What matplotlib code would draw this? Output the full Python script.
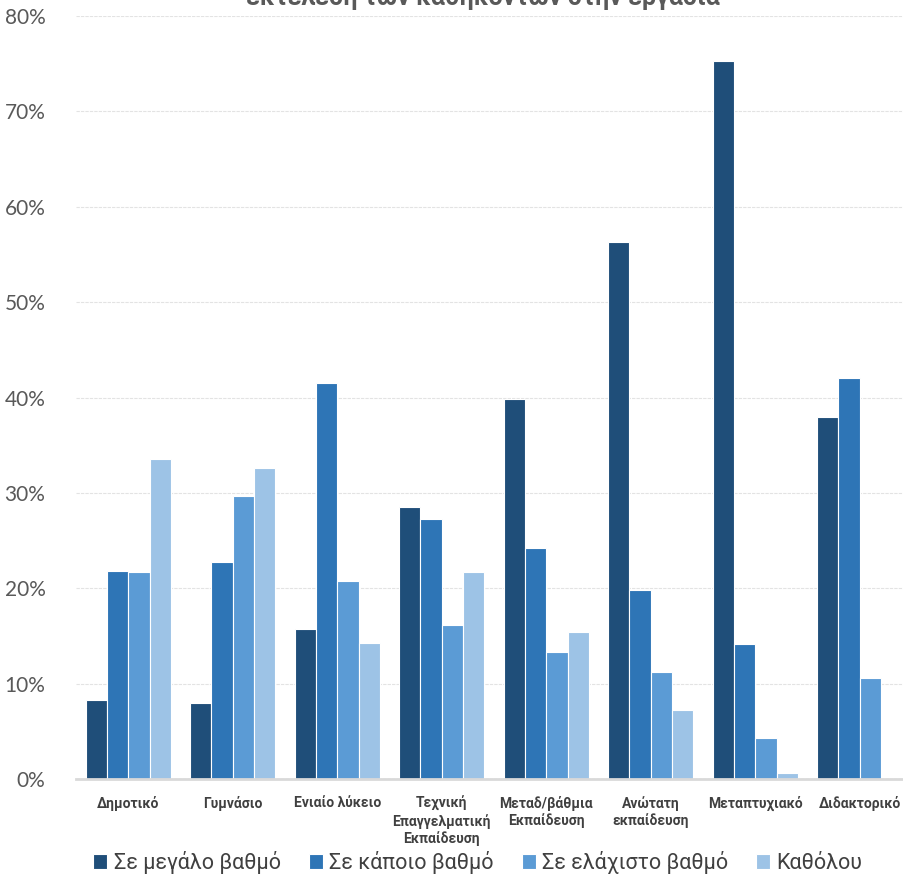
import numpy as np
import matplotlib.pyplot as plt

plt.rcParams['font.family'] = ['Roboto', 'DejaVu Sans']

categories = ['Δημοτικό', 'Γυμνάσιο', 'Ενιαίο λύκειο',
              'Τεχνική\nΕπαγγελματική\nΕκπαίδευση', 'Μεταδ/βάθμια\nΕκπαίδευση',
              'Ανώτατη\nεκπαίδευση', 'Μεταπτυχιακό', 'Διδακτορικό']
series = ['Σε μεγάλο βαθμό', 'Σε κάποιο βαθμό', 'Σε ελάχιστο βαθμό', 'Καθόλου']
megalo = [8.3, 8.0, 15.7, 28.5, 39.8, 56.3, 75.3, 38.0]
kapoio = [21.8, 22.8, 41.5, 27.3, 24.2, 19.8, 14.2, 42.0]
elaxisto = [21.7, 29.7, 20.8, 16.1, 13.3, 11.2, 4.3, 10.6]
katholou = [33.5, 32.6, 14.3, 21.7, 15.4, 7.2, 0.6, 0.0]
colors = ['#1F4E79', '#2E75B6', '#5B9BD5', '#9DC3E6']

values = [megalo, kapoio, elaxisto, katholou]

fig = plt.figure(figsize=(9.04, 8.75), dpi=100)
ax = fig.add_axes([76/904, 96/875, 836/904, 763/875])

x = np.arange(len(categories))
w = 0.204
for i, (vals, lab, col) in enumerate(zip(values, series, colors)):
    ax.bar(x + (i - 1.5) * w, vals, w, color=col, edgecolor='white',
           linewidth=0.8, label=lab, zorder=3)

ax.set_xlim(-0.5, len(categories) - 0.5)
ax.set_ylim(0, 80)
ax.set_yticks(np.arange(0, 81, 10))
ax.set_yticklabels(['%d%%' % v for v in range(0, 81, 10)], family='Lato')
ax.yaxis.grid(True, color='#e3e3e3', linewidth=0.8, linestyle=(0, (3, 1)), zorder=0)
ax.set_xticks(x)
ax.set_xticklabels(categories, fontsize=10, fontweight='bold', color='#404040',
                   linespacing=1.25)
ax.tick_params(axis='x', length=0, pad=12)
ax.tick_params(axis='y', length=0, pad=22, labelsize=15, labelcolor='#595959')
for s in ['top', 'right', 'left']:
    ax.spines[s].set_visible(False)
ax.spines['bottom'].set_color('#d9d9d9')
ax.spines['bottom'].set_linewidth(2)
ax.spines['bottom'].set_zorder(4)

fig.legend(loc='lower center', bbox_to_anchor=(478/904, -0.021), ncol=4,
           frameon=False, fontsize=15.5, handlelength=0.65, handleheight=0.65,
           handletextpad=0.3, columnspacing=1.3, labelcolor='#404040')

fig.text(483/904, 1 - 5/875, 'εκτέλεση των καθηκόντων στην εργασία',
         ha='center', va='baseline', fontsize=18, fontweight='bold', color='#595959')

fig.savefig('out.png', dpi=100)
